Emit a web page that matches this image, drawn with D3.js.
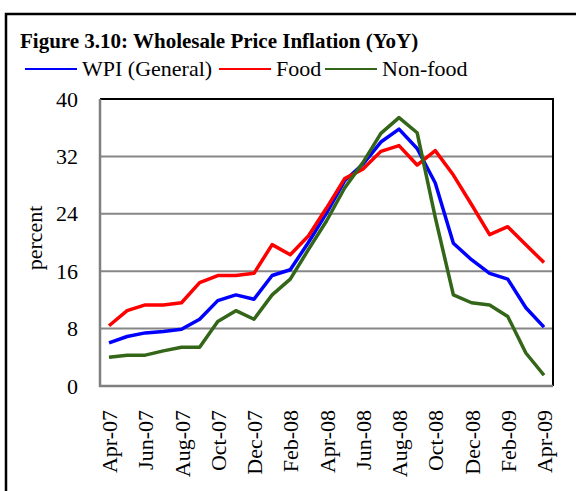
<!DOCTYPE html>
<html>
<head>
<meta charset="utf-8">
<script src="https://cdn.jsdelivr.net/npm/d3@7"></script>
<style>
  body { margin: 0; background: #fff; }
  svg { display: block; }
  svg text { font-family: "Liberation Serif", "Times New Roman", serif; }
</style>
</head>
<body>
<svg id="chart" width="576" height="491"></svg>
<script>
// months on the axis, Apr-07 .. Apr-09
var months = ["Apr-07","May-07","Jun-07","Jul-07","Aug-07","Sep-07","Oct-07","Nov-07","Dec-07","Jan-08","Feb-08","Mar-08",
              "Apr-08","May-08","Jun-08","Jul-08","Aug-08","Sep-08","Oct-08","Nov-08","Dec-08","Jan-09","Feb-09","Mar-09","Apr-09"];
var tickMonths = months.filter(function(d, i) { return i % 2 == 0; });
var yTicks = [0, 8, 16, 24, 32, 40];

var wpi     = [6.0, 6.9, 7.4, 7.6, 7.9, 9.3, 11.9, 12.7, 12.1, 15.4, 16.2, 20.0, 24.1, 28.6, 30.9, 34.0, 35.8, 33.1, 28.3, 19.9, 17.6, 15.7, 14.9, 10.9, 8.2];
var food    = [8.4, 10.5, 11.3, 11.3, 11.6, 14.4, 15.4, 15.4, 15.7, 19.7, 18.3, 20.9, 24.8, 28.9, 30.2, 32.7, 33.5, 30.8, 32.8, 29.4, 25.3, 21.1, 22.2, 19.7, 17.2];
var nonfood = [4.0, 4.3, 4.3, 4.9, 5.4, 5.4, 9.0, 10.5, 9.3, 12.7, 14.9, 19.0, 23.0, 27.6, 31.1, 35.2, 37.4, 35.3, 23.5, 12.7, 11.6, 11.3, 9.7, 4.6, 1.5];

var seriesNames = ["WPI (General)", "Food", "Non-food"];
var seriesColors = ["#0000ff", "#ff0000", "#336619"];
var seriesData = [wpi, food, nonfood];

var svg = d3.select("#chart");

// outer frame
svg.append("rect")
  .attr("x", 6).attr("y", 14)
  .attr("width", 620).attr("height", 620)
  .attr("fill", "none").attr("stroke", "#000").attr("stroke-width", 2.5);

// title
svg.append("text")
  .attr("x", 20).attr("y", 48)
  .style("font-size", "21px").style("font-weight", "bold")
  .text("Figure 3.10: Wholesale Price Inflation (YoY)");

// plot area edges
var pLeft = 100, pRight = 553, pTop = 99, pBottom = 386;

var x = d3.scalePoint().domain(months).range([109, 544]);
var y = d3.scaleLinear().domain([0, 40]).range([pBottom, pTop]);

// gridlines
svg.append("g")
  .selectAll("line")
  .data(yTicks.filter(function(d) { return d > 0 && d < 40; }))
  .enter().append("line")
  .attr("x1", pLeft).attr("x2", pRight)
  .attr("y1", function(d) { return y(d); })
  .attr("y2", function(d) { return y(d); })
  .attr("stroke", "#868686").attr("stroke-width", 2);

// plot border: top/right black, left/bottom gray
svg.append("path")
  .attr("d", "M" + pLeft + "," + pTop + "H" + pRight + "V" + pBottom)
  .attr("fill", "none").attr("stroke", "#000").attr("stroke-width", 2);
svg.append("path")
  .attr("d", "M" + pLeft + "," + pTop + "V" + pBottom + "H" + pRight)
  .attr("fill", "none").attr("stroke", "#808080").attr("stroke-width", 2.5);

// y axis labels
var yAxis = d3.axisLeft(y).tickValues(yTicks).tickSize(0).tickPadding(22);
var gy = svg.append("g").attr("transform", "translate(" + pLeft + ",0)").call(yAxis);
gy.select(".domain").remove();
gy.selectAll("text")
  .style("font-family", "Liberation Serif").style("font-size", "22px").attr("fill", "#000");

svg.append("text")
  .attr("transform", "translate(42,238) rotate(-90)")
  .attr("text-anchor", "middle")
  .style("font-size", "22px")
  .text("percent");

// x axis labels
var xAxis = d3.axisBottom(x).tickValues(tickMonths).tickSize(0);
var gx = svg.append("g").attr("transform", "translate(0," + pBottom + ")").call(xAxis);
gx.select(".domain").remove();
gx.selectAll("text")
  .style("font-family", "Liberation Serif").style("font-size", "22px").attr("fill", "#000")
  .attr("text-anchor", "end")
  .attr("transform", "rotate(-90)")
  .attr("x", -24).attr("y", 0).attr("dy", "0.35em");

// lines
var line = d3.line()
  .x(function(d, i) { return x(months[i]); })
  .y(function(d) { return y(d); });

svg.append("g")
  .selectAll("path")
  .data(seriesData)
  .enter().append("path")
  .attr("d", line)
  .attr("fill", "none")
  .attr("stroke", function(d, i) { return seriesColors[i]; })
  .attr("stroke-width", 3.5)
  .attr("stroke-linejoin", "round");

// legend
var legendX = [25, 219, 325];
var lg = svg.append("g").selectAll("g")
  .data(seriesNames)
  .enter().append("g")
  .attr("transform", function(d, i) { return "translate(" + legendX[i] + ",0)"; });
lg.append("line")
  .attr("x1", 0).attr("x2", 52).attr("y1", 69).attr("y2", 69)
  .attr("stroke", function(d, i) { return seriesColors[i]; })
  .attr("stroke-width", 2);
lg.append("text")
  .attr("x", 57).attr("y", 76)
  .style("font-size", "22px")
  .text(function(d) { return d; });
</script>
</body>
</html>
